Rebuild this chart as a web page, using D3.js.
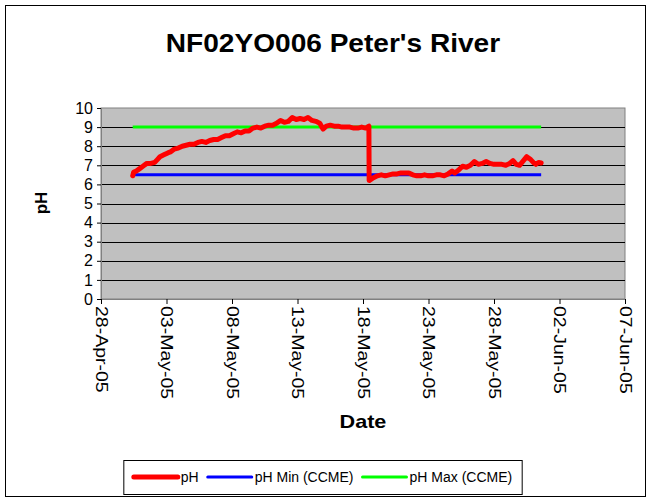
<!DOCTYPE html>
<html>
<head>
<meta charset="utf-8">
<script src="https://cdn.jsdelivr.net/npm/d3@7"></script>
<style>
  body { margin: 0; background: #fff; }
  text { font-family: "Liberation Sans", Arial, sans-serif; }
</style>
</head>
<body>
<div id="chart"></div>
<script>
// series values, days after 28-Apr-05 00:00
const phDays = [2.42, 2.5, 2.7, 2.9, 3.1, 3.3, 3.5, 3.8, 4.1, 4.3, 4.5, 4.8, 5.1, 5.3, 5.6, 5.9,
  6.2, 6.5, 6.8, 7.1, 7.4, 7.7, 8.0, 8.3, 8.6, 8.9, 9.2, 9.5, 9.8, 10.1, 10.4, 10.7, 11.0, 11.3,
  11.6, 11.9, 12.2, 12.5, 12.8, 13.1, 13.4, 13.7, 14.0, 14.3, 14.6, 14.9, 15.2, 15.5, 15.8, 16.1,
  16.4, 16.7, 16.95, 17.2, 17.5, 17.8, 18.1, 18.4, 18.7, 19.0, 19.3, 19.6, 19.9, 20.2, 20.45, 20.47,
  20.8, 21.1, 21.4, 21.7, 22.0, 22.3, 22.6, 22.9, 23.2, 23.5, 23.8, 24.1, 24.4, 24.7, 25.0, 25.3,
  25.6, 25.9, 26.2, 26.5, 26.8, 27.0, 27.3, 27.6, 27.9, 28.2, 28.5, 28.8, 29.1, 29.4, 29.7, 30.0,
  30.3, 30.6, 30.9, 31.2, 31.45, 31.7, 31.95, 32.2, 32.5, 32.8, 33.0, 33.2, 33.4, 33.6];
const phValues = [6.45, 6.65, 6.7, 6.8, 6.9, 7.0, 7.1, 7.1, 7.15, 7.3, 7.45, 7.55, 7.65, 7.7, 7.85, 7.9,
  8.0, 8.05, 8.1, 8.1, 8.2, 8.25, 8.2, 8.3, 8.35, 8.35, 8.45, 8.55, 8.55, 8.65, 8.75, 8.7, 8.8, 8.8,
  8.95, 9.0, 8.95, 9.05, 9.1, 9.1, 9.2, 9.35, 9.25, 9.3, 9.5, 9.4, 9.45, 9.4, 9.5, 9.35,
  9.3, 9.2, 8.9, 9.05, 9.1, 9.05, 9.05, 9.0, 9.0, 9.0, 8.95, 8.95, 9.0, 8.95, 9.05, 6.2,
  6.35, 6.45, 6.5, 6.45, 6.5, 6.55, 6.55, 6.6, 6.6, 6.6, 6.5, 6.45, 6.45, 6.5, 6.45, 6.45,
  6.5, 6.5, 6.45, 6.55, 6.7, 6.6, 6.75, 6.95, 6.9, 7.0, 7.2, 7.05, 7.1, 7.2, 7.1, 7.05,
  7.05, 7.05, 7.0, 7.1, 7.25, 7.05, 7.0, 7.2, 7.45, 7.3, 7.15, 7.05, 7.15, 7.12];
const guideDays = [2.42, 33.6];
const phMin = [6.5, 6.5];
const phMax = [9, 9];

const xTickLabels = ["28-Apr-05", "03-May-05", "08-May-05", "13-May-05", "18-May-05",
  "23-May-05", "28-May-05", "02-Jun-05", "07-Jun-05"];
const yTicks = [0, 1, 2, 3, 4, 5, 6, 7, 8, 9, 10];
const legendLabels = ["pH", "pH Min (CCME)", "pH Max (CCME)"];

const width = 652, height = 501;
const plot = { left: 101, right: 625, top: 108, bottom: 299 };
const font = "Liberation Sans, Arial, sans-serif";

const parseTick = d3.timeParse("%d-%b-%y");
const start = parseTick(xTickLabels[0]);
const toDate = d => new Date(start.getTime() + d * 864e5);

const svg = d3.select("#chart").append("svg")
  .attr("width", width).attr("height", height);

// chart border
svg.append("rect")
  .attr("x", 5.5).attr("y", 5.5).attr("width", 640).attr("height", 491)
  .attr("fill", "#fff").attr("stroke", "#000");

const x = d3.scaleTime()
  .domain([start, parseTick(xTickLabels[xTickLabels.length - 1])])
  .range([plot.left, plot.right]);
const y = d3.scaleLinear().domain([0, 10]).range([plot.bottom, plot.top]);

// plot area
svg.append("rect")
  .attr("x", plot.left).attr("y", plot.top)
  .attr("width", plot.right - plot.left).attr("height", plot.bottom - plot.top)
  .attr("fill", "#c0c0c0").attr("stroke", "#808080");

// gridlines
svg.append("g").selectAll("line")
  .data(yTicks.slice(1, -1))
  .join("line")
  .attr("x1", plot.left).attr("x2", plot.right)
  .attr("y1", d => Math.round(y(d)) + 0.5).attr("y2", d => Math.round(y(d)) + 0.5)
  .attr("stroke", "#000").attr("stroke-width", 1);

// y axis
const yAxis = svg.append("g")
  .attr("transform", `translate(${plot.left},0)`)
  .call(d3.axisLeft(y).tickValues(yTicks).tickSize(4).tickPadding(4));
yAxis.select(".domain").attr("stroke", "#808080");
yAxis.selectAll(".tick line").attr("stroke", "#000");
yAxis.selectAll("text").attr("font-size", 16).attr("fill", "#000")
  .style("font-family", font);

// x axis
const xAxis = svg.append("g")
  .attr("transform", `translate(0,${plot.bottom})`)
  .call(d3.axisBottom(x).tickValues(xTickLabels.map(parseTick))
    .tickFormat((d, i) => xTickLabels[i]).tickSize(5));
xAxis.select(".domain").attr("stroke", "#808080");
xAxis.selectAll(".tick line").attr("stroke", "#000");
xAxis.selectAll("text")
  .attr("font-size", 16).attr("fill", "#000")
  .style("font-family", font)
  .attr("text-anchor", "start")
  .attr("dy", null)
  .attr("transform", "translate(-6,7) rotate(90) scale(1.22,1)")
  .attr("x", 0).attr("y", 0);

// lines
const line = d3.line().x(d => x(toDate(d[0]))).y(d => y(d[1]));

svg.append("path")
  .datum(guideDays.map((d, i) => [d, phMin[i]]))
  .attr("d", line).attr("fill", "none")
  .attr("stroke", "#0000ff").attr("stroke-width", 3);

svg.append("path")
  .datum(guideDays.map((d, i) => [d, phMax[i]]))
  .attr("d", line).attr("fill", "none")
  .attr("stroke", "#00ff00").attr("stroke-width", 3);

svg.append("path")
  .datum(phDays.map((d, i) => [d, phValues[i]]))
  .attr("d", line).attr("fill", "none")
  .attr("stroke", "#ff0000").attr("stroke-width", 5)
  .attr("stroke-linejoin", "round").attr("stroke-linecap", "round");

// titles
svg.append("text")
  .attr("x", 333).attr("y", 52)
  .attr("text-anchor", "middle")
  .attr("font-size", 26).attr("font-weight", "bold")
  .attr("transform", "translate(333,0) scale(1.08,1) translate(-333,0)")
  .text("NF02YO006 Peter's River");

svg.append("text")
  .attr("transform", "translate(47,203) rotate(-90)")
  .attr("text-anchor", "middle")
  .attr("font-size", 17).attr("font-weight", "bold")
  .text("pH");

svg.append("text")
  .attr("x", 363).attr("y", 428)
  .attr("text-anchor", "middle")
  .attr("font-size", 18).attr("font-weight", "bold")
  .attr("transform", "translate(363,0) scale(1.2,1) translate(-363,0)")
  .text("Date");

// legend
const legendColors = ["#ff0000", "#0000ff", "#00ff00"];
const legendWidths = [5, 3, 3];
const legend = svg.append("g");
const legendBox = legend.append("rect")
  .attr("y", 460.5).attr("height", 34)
  .attr("fill", "#fff").attr("stroke", "#000");
let lx = 0;
const items = legend.selectAll(".item")
  .data(legendLabels)
  .join("g").attr("class", "item");
items.each(function (d, i) {
  const g = d3.select(this);
  g.append("line")
    .attr("x1", lx).attr("x2", lx + 44).attr("y1", 477).attr("y2", 477)
    .attr("stroke", legendColors[i]).attr("stroke-width", legendWidths[i])
    .attr("stroke-linecap", "round");
  const t = g.append("text")
    .attr("x", lx + 47).attr("y", 482)
    .attr("font-size", 14).text(d);
  lx += 47 + t.node().getComputedTextLength() + 9;
});
const legendW = lx - 9 + 20;
const legendLeft = 323 - legendW / 2;
items.attr("transform", `translate(${legendLeft + 10},0)`);
legendBox.attr("x", legendLeft).attr("width", legendW);
</script>
</body>
</html>
